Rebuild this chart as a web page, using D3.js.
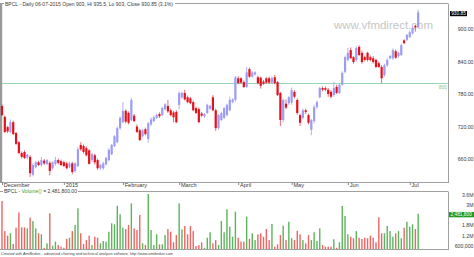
<!DOCTYPE html>
<html>
<head>
<meta charset="utf-8">
<script src="https://cdn.jsdelivr.net/npm/d3@7"></script>
<style>
body { margin: 0; background: #fff; }
svg { display: block; font-family: "Liberation Sans", Arial, sans-serif; }
</style>
</head>
<body>
<svg id="chart" width="474" height="257"></svg>
<script>
// BPCL daily, 1 Dec 2014 .. 6 Jul 2015
const opens = [758,738,719,710,728,708,691,671,673,663,664,631,645,654,649,657,651,653,643,651,
  658,656,654,652,645,652,638,647,686,684,680,676,658,667,658,643,643,650,658,669,
  684,691,717,728,749,745,732,740,720,713,702,715,697,724,730,736,743,741,752,758,
  750,746,747,760,774,782,774,772,765,754,752,744,739,745,753,774,750,717,732,736,
  741,750,765,769,809,809,802,793,826,812,816,811,810,803,809,809,801,811,802,782,
  732,762,763,764,784,769,741,736,750,741,714,730,756,774,791,791,788,784,778,793,
  782,797,821,843,861,848,843,867,856,848,856,848,846,843,837,830,815,833,846,846,
  859,850,852,879,880,885,892,906,903];
const highs = [761,740,721,733,731,710,693,674,676,670,667,652,657,657,664,660,660,656,656,664,
  661,659,657,655,655,655,654,682,691,687,683,678,672,670,661,651,655,664,680,688,
  704,720,739,765,752,748,773,743,724,716,716,718,728,737,740,744,746,756,763,769,
  753,749,750,784,784,788,777,775,768,757,755,747,745,762,760,778,753,743,747,756,
  762,775,772,813,813,811,805,830,829,822,822,814,812,806,811,812,812,815,804,784,
  772,770,776,792,787,772,744,753,753,744,734,760,768,793,794,794,791,787,802,797,
  799,822,851,865,866,850,868,870,860,851,858,851,850,845,840,833,836,846,852,864,
  862,858,873,881,891,897,904,908,935.5];
const lows = [739,708,708,708,704,686,669,661,660,660,627,628,643,647,646,649,649,630,640,648,
  650,647,645,641,643,632,635,645,675,670,665,650,655,650,640,640,640,648,656,667,
  682,689,714,726,726,724,730,728,708,693,700,704,690,721,728,734,736,739,750,745,
  739,728,726,752,771,768,763,761,748,743,726,738,736,743,751,748,712,714,730,734,
  739,748,763,766,798,799,791,791,810,810,814,798,790,797,799,799,799,798,776,721,
  728,752,760,760,772,742,721,733,743,724,704,726,753,772,785,785,775,772,775,780,
  780,795,818,840,845,836,840,850,836,840,840,840,836,828,828,800,812,830,844,843,
  845,847,850,872,878,883,890,895,903];
const closes = [741,710,711,728,706,688,671,664,662,668,634,649,654,649,658,652,658,638,654,658,
  653,649,647,643,652,636,652,678,678,673,667,651,669,654,643,649,652,662,677,686,
  702,717,736,749,729,727,769,730,710,695,713,706,726,733,737,741,739,754,761,748,
  741,737,728,782,782,770,765,763,750,745,728,740,743,760,758,750,717,741,745,754,
  760,769,770,811,800,801,793,820,812,820,820,800,795,799,801,801,809,800,778,732,
  769,755,774,787,775,745,727,750,747,727,732,756,765,791,788,788,780,775,791,782,
  797,819,848,856,846,839,865,852,839,843,843,843,839,830,830,809,833,843,850,861,
  847,856,870,874,889,894,902,903,930.85];
const volumes = [3230000,1460000,1190000,1330000,700000,1660000,2560000,1680000,1680000,1620000,
  2250000,2050000,1620000,1330000,1270000,480000,740000,2510000,600000,840000,
  640000,540000,480000,1000000,1070000,1460000,1820000,2800000,1330000,700000,
  930000,1190000,640000,1130000,1070000,740000,880000,840000,1420000,1920000,
  1860000,2950000,2450000,1660000,1580000,1820000,3090000,1620000,1520000,2410000,
  740000,640000,3640000,1520000,640000,1270000,680000,680000,1230000,1580000,
  1420000,800000,1230000,3090000,1560000,1760000,1270000,1760000,1460000,580000,
  640000,800000,480000,1070000,1390000,740000,930000,640000,2050000,1390000,
  2740000,1720000,1130000,2600000,1070000,840000,840000,2310000,1000000,1330000,
  930000,1270000,1330000,1130000,1580000,930000,1880000,540000,680000,1230000,
  1780000,930000,2010000,1040000,930000,1480000,1270000,930000,740000,1230000,
  930000,1390000,880000,1620000,640000,540000,540000,540000,980000,480000,
  800000,2940000,2350000,1270000,1130000,1040000,1460000,1070000,1000000,1070000,
  1040000,1190000,1070000,800000,2270000,1330000,1330000,1760000,1460000,1130000,
  1330000,1460000,1040000,1660000,2010000,1720000,1860000,1580000,2481800];

const holidays = ["2014-12-25","2015-01-26","2015-02-17","2015-03-06","2015-04-02","2015-04-03","2015-04-14","2015-05-01"];
const extraSessions = ["2015-02-28"];
const tickDates = ["2014-12-01","2015-01-01","2015-02-02","2015-03-02","2015-04-01","2015-05-04","2015-06-01","2015-07-01"];
const tickLabels = ["December","2015","February","March","April","May","Jun","Jul"];
const priceTicks = [660, 720, 780, 840, 900];
// 2.4M sits under the current-volume marker in the picture, so it is left out
const volumeTicks = [600000, 1200000, 1800000, 3000000, 3600000];
const refLevel = 800;

const parse = d3.timeParse("%Y-%m-%d"), fmt = d3.timeFormat("%Y-%m-%d");
const days = d3.timeDay.range(parse("2014-12-01"), parse("2015-07-07"))
    .filter(d => {
        const s = fmt(d);
        return extraSessions.includes(s) || (d.getDay() % 6 !== 0 && !holidays.includes(s));
    })
    .map(fmt);

const bars = days.map((d, i) => ({
    date: d, o: opens[i], h: highs[i], l: lows[i], c: closes[i], v: volumes[i]
}));

const svg = d3.select('#chart');
const frame = '#a0a0a0', textCol = '#3a3a3a';
const upCol = '#9c9cf4', downCol = '#e4101c';

const x = d3.scalePoint().domain(days).range([2, 2 + 148 * 2.812]);
const y = d3.scaleLinear().domain([617.6, 948]).range([182, 3]);
const yv = d3.scaleLinear().domain([406000, 3818000]).range([249, 191]);

// ---- price panel frame
svg.append('line').attr('x1', 0).attr('x2', 448).attr('y1', 3.5).attr('y2', 3.5).attr('stroke', frame);
svg.append('line').attr('x1', 448.5).attr('x2', 448.5).attr('y1', 3.5).attr('y2', 182.5).attr('stroke', frame);
svg.append('line').attr('x1', 0).attr('x2', 449).attr('y1', 182.5).attr('y2', 182.5).attr('stroke', frame);
svg.append('rect').attr('x', 0).attr('y', 3).attr('width', 2.2).attr('height', 180).attr('fill', '#9a9a9a');

svg.append('rect').attr('x', 4).attr('y', 0).attr('width', 171).attr('height', 7).attr('fill', '#fff');
svg.append('text')
    .attr('x', 5).attr('y', 6)
    .attr('font-size', 5.6).attr('fill', textCol)
    .attr('textLength', 168).attr('lengthAdjust', 'spacingAndGlyphs')
    .text('BPCL - Daily 06-07-2015 Open 903, Hi 935.5, Lo 903, Close 930.85 (3.1%)');

// watermark
svg.append('text')
    .attr('x', 383.5).attr('y', 28.5)
    .attr('text-anchor', 'middle')
    .attr('font-size', 11.5).attr('fill', '#c6c6c6')
    .text('www.vfmdirect.com');

// reference line
svg.append('line')
    .attr('x1', 2).attr('x2', 448)
    .attr('y1', Math.round(y(refLevel)) + 0.5).attr('y2', Math.round(y(refLevel)) + 0.5)
    .attr('stroke', '#98d6b8');
svg.append('text')
    .attr('x', 447).attr('y', y(refLevel) + 5.5)
    .attr('text-anchor', 'end')
    .attr('font-size', 5).attr('fill', '#7cc492')
    .text(refLevel);

// candles
const candles = svg.append('g');
candles.selectAll('line')
    .data(bars)
    .join('line')
    .attr('x1', d => x(d.date)).attr('x2', d => x(d.date))
    .attr('y1', d => y(d.h)).attr('y2', d => y(d.l))
    .attr('stroke', d => d.c >= d.o ? '#a6a6f6' : '#ec5a62')
    .attr('stroke-width', 0.9);
candles.selectAll('rect')
    .data(bars)
    .join('rect')
    .attr('x', d => x(d.date) - 1.1)
    .attr('width', 2.2)
    .attr('y', d => y(Math.max(d.o, d.c)))
    .attr('height', d => Math.max(1, Math.abs(y(d.o) - y(d.c))))
    .attr('fill', d => d.c >= d.o ? upCol : downCol);

// price axis labels
svg.append('g').selectAll('text')
    .data(priceTicks)
    .join('text')
    .attr('x', 473.5).attr('y', d => y(d) + 2)
    .attr('text-anchor', 'end')
    .attr('font-size', 5.2).attr('fill', textCol)
    .text(d => d3.format('.2f')(d));

const last = bars[bars.length - 1];
svg.append('rect')
    .attr('x', 450).attr('y', y(last.c) - 1.3)
    .attr('width', 17).attr('height', 5.2)
    .attr('fill', '#000');
svg.append('text')
    .attr('x', 458.5).attr('y', y(last.c) + 2.8)
    .attr('text-anchor', 'middle')
    .attr('font-size', 4.8).attr('fill', '#fff')
    .text(d3.format('.2f')(last.c));

// date axis
const dateAxis = svg.append('g');
tickDates.forEach((d, i) => {
    dateAxis.append('line')
        .attr('x1', x(d) + 0.5).attr('x2', x(d) + 0.5)
        .attr('y1', 182.5).attr('y2', 185)
        .attr('stroke', '#555').attr('stroke-width', 0.7);
    dateAxis.append('text')
        .attr('x', x(d) + 1.8).attr('y', 187.2)
        .attr('font-size', 5.6).attr('fill', textCol)
        .text(tickLabels[i]);
});

// ---- volume panel
svg.append('line').attr('x1', 0).attr('x2', 3).attr('y1', 191.5).attr('y2', 191.5).attr('stroke', frame);
svg.append('line').attr('x1', 78).attr('x2', 448).attr('y1', 191.5).attr('y2', 191.5).attr('stroke', frame);
svg.append('line').attr('x1', 448.5).attr('x2', 448.5).attr('y1', 191.5).attr('y2', 249.5).attr('stroke', frame);
svg.append('line').attr('x1', 0).attr('x2', 449).attr('y1', 249.5).attr('y2', 249.5).attr('stroke', frame);

const vt = svg.append('text')
    .attr('x', 4).attr('y', 193.4)
    .attr('font-size', 5.4).attr('fill', textCol)
    .attr('textLength', 73).attr('lengthAdjust', 'spacingAndGlyphs');
vt.append('tspan').text('BPCL - ');
vt.append('tspan').attr('fill', '#3aa03a').text('Volume()');
vt.append('tspan').text(' = ' + d3.format(',.2f')(last.v));

svg.append('g').selectAll('rect')
    .data(bars)
    .join('rect')
    .attr('x', d => x(d.date) - 0.7)
    .attr('width', 1.4)
    .attr('y', d => yv(d.v))
    .attr('height', d => 249 - yv(d.v))
    .attr('fill', d => d.c >= d.o ? '#5cb45c' : '#f06464');

const volFmt = v => v < 1000000 ? d3.format(',')(v) : (v / 1e6) + 'M';
svg.append('g').selectAll('text')
    .data(volumeTicks)
    .join('text')
    .attr('x', 473.5).attr('y', d => yv(d) + 2)
    .attr('text-anchor', 'end')
    .attr('font-size', 5.2).attr('fill', textCol)
    .text(volFmt);

svg.append('rect')
    .attr('x', 449).attr('y', yv(last.v) - 1.8)
    .attr('width', 25).attr('height', 5.4)
    .attr('fill', '#1f9a1f');
svg.append('text')
    .attr('x', 450.5).attr('y', yv(last.v) + 2.3)
    .attr('font-size', 4.8).attr('fill', '#fff')
    .text(d3.format(',')(last.v));

// footer
svg.append('text')
    .attr('x', 1).attr('y', 255)
    .attr('font-size', 4).attr('fill', '#444')
    .attr('textLength', 172).attr('lengthAdjust', 'spacingAndGlyphs')
    .text('Created with AmiBroker - advanced charting and technical analysis software. http://www.amibroker.com');
</script>
</body>
</html>
